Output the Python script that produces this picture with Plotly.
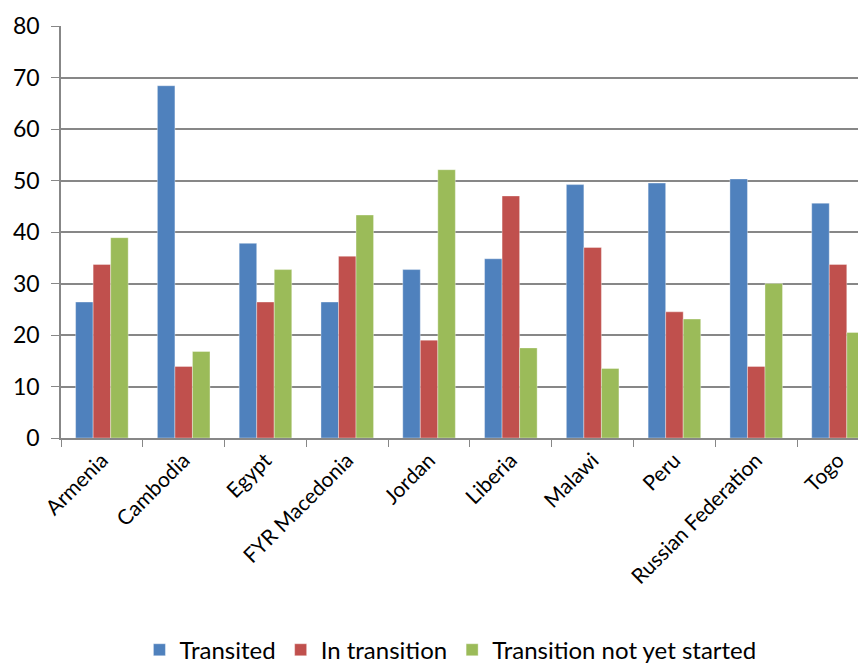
import plotly.graph_objects as go

countries = [
    "Armenia", "Cambodia", "Egypt", "FYR Macedonia", "Jordan",
    "Liberia", "Malawi", "Peru", "Russian Federation", "Togo",
]
transited = [26.4, 68.4, 37.8, 26.4, 32.7, 34.8, 49.2, 49.5, 50.3, 45.6]
in_transition = [33.7, 13.9, 26.4, 35.3, 19.0, 47.0, 37.0, 24.5, 13.9, 33.7]
not_started = [38.9, 16.8, 32.7, 43.3, 52.1, 17.5, 13.5, 23.1, 30.0, 20.5]

series = [
    ("Transited", transited, "#4F81BD"),
    ("In transition", in_transition, "#C0504D"),
    ("Transition not yet started", not_started, "#9BBB59"),
]

FONT = "Lato, Carlito, Calibri, sans-serif"
GRID = "#878787"

fig = go.Figure()
for name, vals, color in series:
    fig.add_trace(
        go.Bar(
            x=countries,
            y=vals,
            name=name,
            marker=dict(color=color, line=dict(color="rgba(255,255,255,0.6)", width=0.6)),
        )
    )

# page body has an 8px margin, so the margins below are offset by that
fig.update_layout(
    width=866,
    height=666,
    barmode="group",
    bargap=0.357,
    bargroupgap=0,
    plot_bgcolor="white",
    paper_bgcolor="white",
    font=dict(family=FONT, size=21, color="black"),
    margin=dict(l=53, r=0, t=18, b=236, autoexpand=False),
    legend=dict(
        orientation="h",
        x=0.479,
        y=-0.515,
        xanchor="center",
        yanchor="middle",
        font=dict(size=24),
        itemwidth=30,
        traceorder="normal",
    ),
    xaxis=dict(
        range=[-0.5, 9.44],
        tickangle=-45,
        tickson="boundaries",
        ticks="outside",
        ticklen=7,
        tickcolor=GRID,
        showline=True,
        linecolor=GRID,
        linewidth=1.5,
        showgrid=False,
        tickfont=dict(size=21),
    ),
    yaxis=dict(
        range=[0, 80],
        dtick=10,
        ticks="outside",
        ticklen=8,
        tickcolor=GRID,
        ticklabelstandoff=7,
        showline=True,
        linecolor=GRID,
        linewidth=1.5,
        showgrid=True,
        gridcolor=GRID,
        gridwidth=1.5,
        zeroline=False,
        tickfont=dict(size=23),
    ),
)

fig.write_html("out.html")
